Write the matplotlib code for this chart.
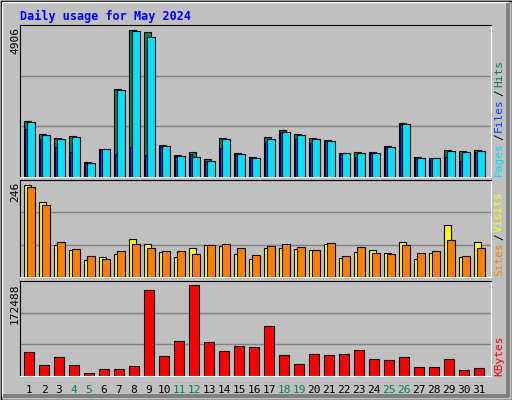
import matplotlib
matplotlib.use('Agg')
import matplotlib.pyplot as plt
from matplotlib.patches import Rectangle

# 数据
days = list(range(1, 32))
weekend = [4, 5, 11, 12, 18, 19, 25, 26]
hits = [1869, 1435, 1302, 1368, 501, 935, 2937, 4906, 4839, 1068, 734, 846, 601, 1302, 801,
        668, 1335, 1569, 1435, 1302, 1235, 801, 834, 834, 1035, 1802, 668, 634, 901, 868, 901]
files = [1836, 1402, 1268, 1335, 467, 935, 2904, 4873, 4673, 1035, 701, 668, 534, 1268, 768,
         634, 1268, 1502, 1402, 1268, 1202, 801, 801, 801, 1001, 1769, 634, 634, 868, 834, 868]
pages = [1602, 1268, 1001, 834, 467, 901, 768, 1001, 734, 1035, 701, 768, 534, 968, 768,
         634, 1168, 1502, 1268, 1135, 1202, 801, 668, 801, 1001, 1769, 634, 634, 668, 534, 834]
visits = [246, 200, 86, 72, 45, 53, 61, 102, 88, 67, 53, 78, 86, 83, 61, 48, 78, 78, 75, 72,
          88, 51, 67, 72, 64, 94, 48, 64, 139, 53, 94]
sites = [241, 192, 94, 75, 56, 48, 69, 88, 78, 69, 69, 61, 86, 88, 78, 59, 83, 88, 80, 72,
         91, 56, 80, 64, 61, 86, 64, 69, 99, 56, 78]
kbytes = [45490, 20850, 36013, 20850, 5686, 13268, 13268, 18954, 163004, 37908, 66339, 172488,
          64444, 47385, 56862, 54967, 94770, 39803, 22745, 41699, 39803, 41699, 49280, 32222,
          30326, 36013, 17059, 17059, 32222, 11372, 15163]

BG = '#C0C0C0'
W, H = 512, 400
MONO = 'DejaVu Sans Mono'

fig = plt.figure(figsize=(W / 100, H / 100), dpi=100, facecolor=BG)

# 外框
def px_rect(x, y, w, h, **kw):
    fig.patches.append(Rectangle((x / W, 1 - (y + h) / H), w / W, h / H,
                                 transform=fig.transFigure, **kw))

px_rect(0.5, 0.5, W - 1, H - 1, fill=False, edgecolor='black', linewidth=1)
px_rect(2, 2, W - 6, H - 6, fill=False, edgecolor='white', linewidth=1)
px_rect(W - 6, 3, 4, H - 6, facecolor='#808080', edgecolor='none')
px_rect(3, H - 6, W - 6, 4, facecolor='#808080', edgecolor='none')


def make_ax(top, bottom, ymax_val, bar_px):
    left, right = 20, 491
    ax = fig.add_axes([left / W, 1 - bottom / H, (right - left) / W, (bottom - top) / H])
    ax.set_facecolor(BG)
    ax.set_xlim(0.8, 32.2)
    ax.set_ylim(0, ymax_val * (bottom - top) / bar_px)
    ax.set_xticks([])
    ax.set_yticks([])
    for s in ['left', 'top']:
        ax.spines[s].set_color('black')
    for s in ['right', 'bottom']:
        ax.spines[s].set_color('white')
    for f in (1 / 3, 2 / 3):
        ax.plot([0, 1], [f, f], transform=ax.transAxes, color='#808080', lw=1, zorder=0)
    return ax


# 上：Hits / Files / Pages
ax1 = make_ax(25, 177, 4906, 147)
ax1.bar([d + 0.05 for d in days], hits, width=0.5, color='#00805C', edgecolor='black', lw=0.8, align='edge')
ax1.bar([d + 0.12 for d in days], pages, width=0.15, color='#0040FF', edgecolor='black', lw=0.6, align='edge')
ax1.bar([d + 0.27 for d in days], files, width=0.5, color='#00E0FF', edgecolor='black', lw=0.8, align='edge')

# 中：Visits / Sites
ax2 = make_ax(180, 277, 246, 92)
ax2.bar([d + 0.05 for d in days], visits, width=0.5, color='#FFFF00', edgecolor='black', lw=0.8, align='edge')
ax2.bar([d + 0.27 for d in days], sites, width=0.5, color='#FF8000', edgecolor='black', lw=0.8, align='edge')

# 下：KBytes
ax3 = make_ax(281, 376, 172488, 91)
ax3.bar([d + 0.07 for d in days], kbytes, width=0.65, color='#FF0000', edgecolor='black', lw=0.8, align='edge')

# 日期标签
for d in days:
    ax3.text(d + 0.4, -0.09, str(d), transform=ax3.get_xaxis_transform(), ha='center', va='top',
             fontsize=8, family=MONO, color='#00805C' if d in weekend else 'black')

# 标题
fig.text(20 / W, 1 - 16 / H, 'Daily usage for May 2024', color='#0000FF', fontsize=8.5,
         family=MONO, fontweight='bold', va='center')

# 左侧最大值
for ax, top, lab in [(ax1, 25, '4906'), (ax2, 180, '246'), (ax3, 281, '172488')]:
    fig.text(15 / W, 1 - (top + 2) / H, lab, rotation=90, fontsize=8, family=MONO,
             ha='center', va='top')

# 右侧图例（从下往上）
renderer = fig.canvas.get_renderer()

def right_legend(bottom_px, parts):
    y = bottom_px
    for txt, col in parts:
        t = fig.text(499 / W, 1 - y / H, txt, rotation=90, fontsize=8, family=MONO,
                     color=col, ha='center', va='bottom')
        bb = t.get_window_extent(renderer)
        y -= bb.height + 2

right_legend(176, [('Pages', '#00E0FF'), ('/', 'black'), ('Files', '#0040FF'), ('/', 'black'), ('Hits', '#00805C')])
right_legend(276, [('Sites', '#FF8000'), ('/', 'black'), ('Visits', '#FFFF00')])
right_legend(376, [('KBytes', '#FF0000')])

fig.savefig('out.png', dpi=100, facecolor=BG)
